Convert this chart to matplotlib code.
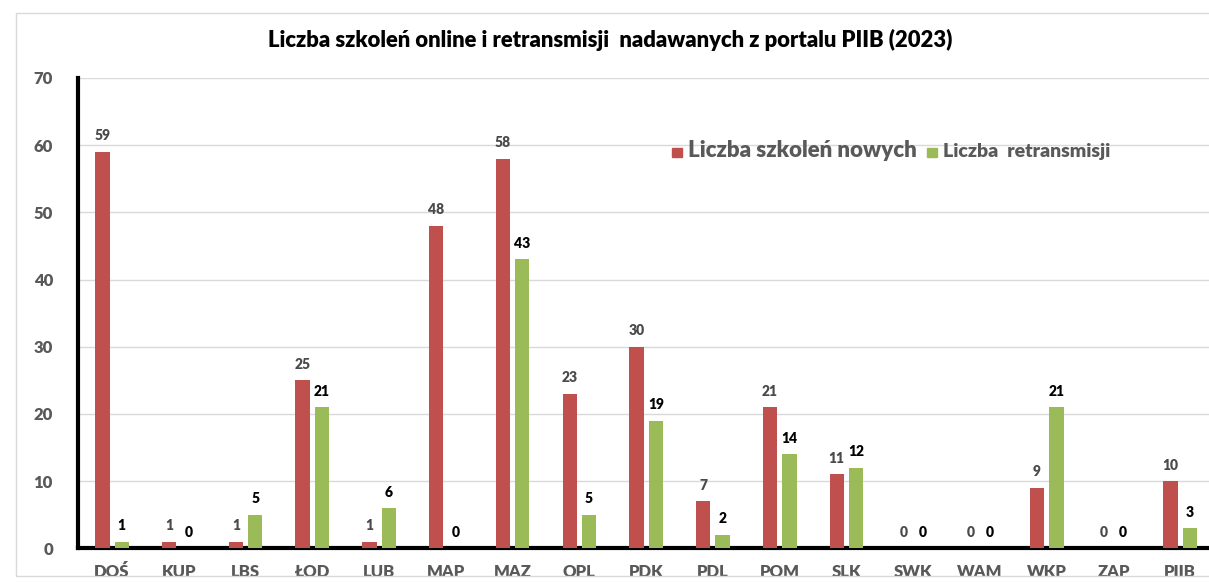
import numpy as np
import matplotlib.pyplot as plt
from matplotlib.patches import Rectangle, Patch

plt.rcParams['font.family'] = ['Lato', 'DejaVu Sans']

# Data
categories = ['DOŚ', 'KUP', 'LBS', 'ŁOD', 'LUB', 'MAP', 'MAZ', 'OPL', 'PDK',
              'PDL', 'POM', 'SLK', 'SWK', 'WAM', 'WKP', 'ZAP', 'PIIB']
nowe = [59, 1, 1, 25, 1, 48, 58, 23, 30, 7, 21, 11, 0, 0, 9, 0, 10]
retrans = [1, 0, 5, 21, 6, 0, 43, 5, 19, 2, 14, 12, 0, 0, 21, 0, 3]

red = '#C0504D'
green = '#9BBB59'
gray = '#595959'

fig = plt.figure(figsize=(12.09, 5.82), dpi=100)
ax = fig.add_axes([0.0645, 0.058, 0.9355, 0.808])

x = np.arange(len(categories))
w = 0.215
off = 0.145
ax.bar(x - off, nowe, w, color=red, zorder=3)
ax.bar(x + off, retrans, w, color=green, zorder=3)

for xi, v in zip(x, nowe):
    ax.text(xi - off, v + 1.4, str(v), ha='center', va='bottom',
            fontsize=10, fontweight='heavy', color='#4a4a4a')
for xi, v in zip(x, retrans):
    ax.text(xi + off, v + 1.4, str(v), ha='center', va='bottom',
            fontsize=10, fontweight='heavy', color='black')

ax.set_xlim(-0.51, 16.43)
ax.set_ylim(0, 70)
ax.set_yticks(range(0, 71, 10))
ax.set_yticklabels([str(v) for v in range(0, 71, 10)], fontweight='heavy',
                   fontsize=12, color=gray)
ax.set_xticks(x)
ax.set_xticklabels(categories, fontweight='heavy', fontsize=12, color=gray)
ax.tick_params(axis='x', length=0, pad=11)
ax.tick_params(axis='y', length=0, pad=18)

ax.grid(axis='y', color='#d9d9d9', linewidth=1, zorder=0)
ax.set_axisbelow(True)
for s in ['top', 'right']:
    ax.spines[s].set_visible(False)
ax.spines['left'].set_linewidth(3)
ax.spines['bottom'].set_linewidth(3)
ax.spines['left'].set_color('black')
ax.spines['bottom'].set_color('black')

fig.text(0.505, 0.932, 'Liczba szkoleń online i retransmisji  nadawanych z portalu PIIB (2023)',
         ha='center', va='center', fontsize=15.8, fontweight='heavy', color='black')

handles = [Patch(color=red), Patch(color=green)]
leg = ax.legend(handles, ['Liczba szkoleń nowych', 'Liczba  retransmisji'],
                loc='center', bbox_to_anchor=(0.719, 0.845), ncol=2, frameon=False,
                handlelength=0.7, handleheight=0.7, handletextpad=0.4,
                columnspacing=0.8)
texts = leg.get_texts()
texts[0].set_fontsize(16)
texts[1].set_fontsize(14)
for t in texts:
    t.set_color(gray)
    t.set_fontweight('heavy')

# light chart frame
fig.patches.append(Rectangle((0.013, 0.01), 1.0, 0.968, transform=fig.transFigure,
                             fill=False, edgecolor='#d9d9d9', linewidth=1))

fig.savefig('out.png', dpi=100)
